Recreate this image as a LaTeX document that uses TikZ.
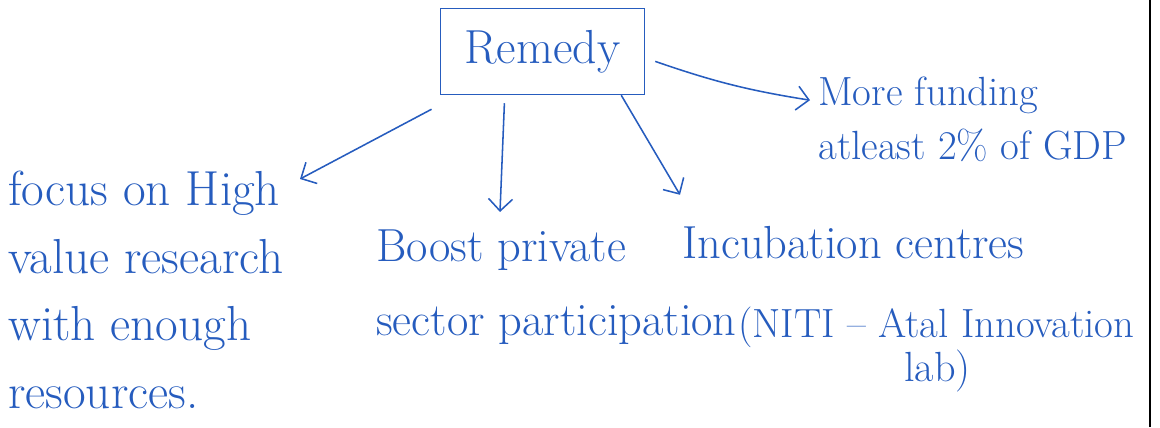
\documentclass[tikz,border=0pt]{standalone}
\usepackage{tikz}
\usetikzlibrary{arrows.meta}
\definecolor{ink}{RGB}{38,92,190}

\begin{document}
\begin{tikzpicture}[
  every node/.style={text=ink},
  txt/.style={align=left,inner sep=0pt,anchor=north west,font=\fontsize{33}{52}\selectfont},
  remedybox/.style={draw=ink,line width=1.2pt,minimum width=5.1cm,minimum height=2.15cm,font=\fontsize{34}{40}\selectfont},
  arr/.style={draw=ink,line width=1.1pt,-{Straight Barb[length=3mm,width=6mm]}}]
  \useasboundingbox (0,0) rectangle (29,10.675);
  \node[remedybox] (remedy) at (13.56,9.39) {Remedy};
  \node[txt,font=\fontsize{35}{48}\selectfont] (focus) at (0.2,6.4) {focus on High\\value research\\with enough\\resources.};
  \node[txt] (boost) at (9.4,4.925) {Boost private\\sector participation};
  \node[txt] (incub) at (17.05,5.025) {Incubation centres};
  \node[txt,font=\fontsize{29}{36}\selectfont] (niti) at (18.45,3.0) {(NITI -- Atal Innovation};
  \node[txt,font=\fontsize{30}{36}\selectfont] (lab) at (22.6,1.925) {lab)};
  \node[txt,font=\fontsize{29}{38}\selectfont] (funding) at (20.45,8.75) {More funding\\atleast 2\% of GDP};
  \draw[arr] ([shift={(-0.2,-0.35)}]remedy.south west) -- ([shift={(7.3,-0.2)}]focus.north west);
  \draw[arr] ([shift={(-0.95,-0.2)}]remedy.south) -- ([shift={(3.1,0.45)}]boost.north west);
  \draw[arr] ([xshift=-0.6cm]remedy.south east) -- ([shift={(-0.05,0.78)}]incub.north west);
  \draw[arr] ([shift={(0.25,-0.25)}]remedy.east) to[bend right=5] ([shift={(-0.2,-0.58)}]funding.north west);
  \draw[line width=2pt] (28.75,0) -- (28.75,10.675);
\end{tikzpicture}
\end{document}
